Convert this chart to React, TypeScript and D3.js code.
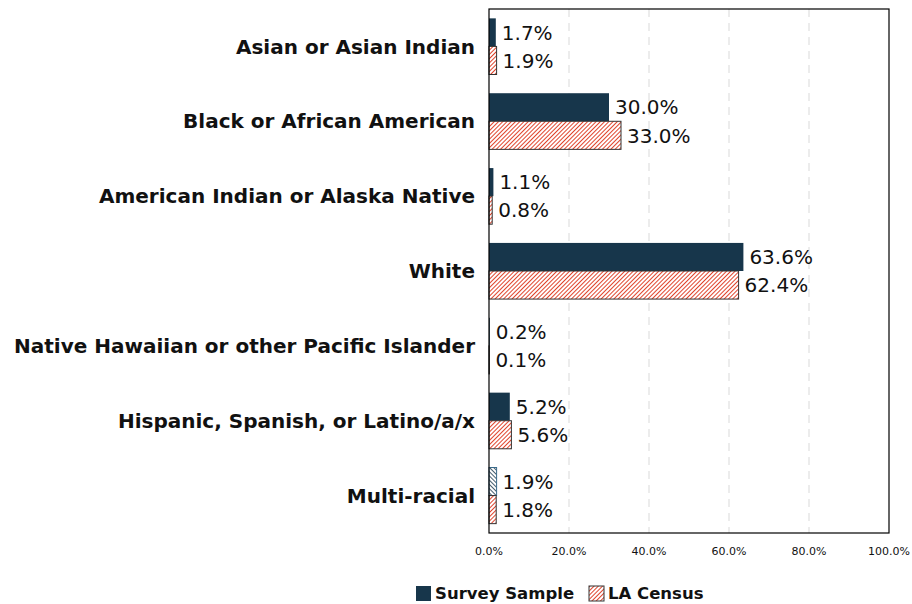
import React from "react";
import * as d3 from "d3";

const categories = [
  "Asian or Asian Indian",
  "Black or African American",
  "American Indian or Alaska Native",
  "White",
  "Native Hawaiian or other Pacific Islander",
  "Hispanic, Spanish, or Latino/a/x",
  "Multi-racial",
];
const surveySample = [1.7, 30.0, 1.1, 63.6, 0.2, 5.2, 1.9];
const laCensus = [1.9, 33.0, 0.8, 62.4, 0.1, 5.6, 1.8];
const xTicks = [0, 20, 40, 60, 80, 100];
const seriesNames = ["Survey Sample", "LA Census"];

const W = 912;
const H = 604;
const M = { left: 489, right: 889, top: 9, bottom: 533 };
const NAVY = "#17364B";
const RED = "#E0442C";
const FONT = "'DejaVu Sans', sans-serif";

export default function App() {
  const x = d3.scaleLinear().domain([0, 100]).range([M.left, M.right]);
  const y = d3
    .scaleBand<string>()
    .domain(categories)
    .range([M.top, M.bottom])
    .paddingInner(0.25)
    .paddingOuter(0.125);
  const bw = y.bandwidth() / 2;

  return (
    <svg
      width={W}
      height={H}
      style={{ position: "absolute", left: 0, top: 0, background: "#fff" }}
      fontFamily={FONT}
    >
      <defs>
        <pattern id="redHatch" width="3" height="3" patternUnits="userSpaceOnUse" patternTransform="rotate(45)">
          <rect width="3" height="3" fill="#fff" />
          <line x1="0" y1="0" x2="0" y2="3" stroke={RED} strokeWidth="2" />
        </pattern>
        <pattern id="blueHatch" width="3" height="3" patternUnits="userSpaceOnUse" patternTransform="rotate(-45)">
          <rect width="3" height="3" fill="#fff" />
          <line x1="0" y1="0" x2="0" y2="3" stroke={NAVY} strokeWidth="1.6" />
        </pattern>
      </defs>
      {/* gridlines */}
      {xTicks.slice(1, -1).map((t) => (
        <line key={t} x1={x(t)} x2={x(t)} y1={M.top} y2={M.bottom} stroke="#d9d9d9" strokeDasharray="8,6" />
      ))}
      {/* bars */}
      {categories.map((c, i) => {
        const y0 = y(c)!;
        const s = surveySample[i];
        const l = laCensus[i];
        const hatchSurvey = c === "Multi-racial";
        return (
          <g key={c}>
            <rect
              x={x(0)}
              y={y0}
              width={x(s) - x(0)}
              height={bw}
              fill={hatchSurvey ? "url(#blueHatch)" : NAVY}
              stroke={hatchSurvey ? "#3a6a8a" : "none"}
              strokeWidth={1}
            />
            <rect
              x={x(0)}
              y={y0 + bw}
              width={x(l) - x(0)}
              height={bw}
              fill="url(#redHatch)"
              stroke="#333"
              strokeWidth={1}
            />
            <text x={x(s) + 6} y={y0 + bw / 2} dy="0.36em" fontSize={20} fill="#111">
              {s.toFixed(1)}%
            </text>
            <text x={x(l) + 6} y={y0 + bw * 1.5} dy="0.36em" fontSize={20} fill="#111">
              {l.toFixed(1)}%
            </text>
            <text
              x={M.left - 14}
              y={y0 + bw}
              dy="0.36em"
              textAnchor="end"
              fontSize={20}
              fontWeight="bold"
              fill="#111"
            >
              {c}
            </text>
          </g>
        );
      })}
      {/* frame */}
      <rect x={M.left} y={M.top} width={M.right - M.left} height={M.bottom - M.top} fill="none" stroke="#000" strokeWidth={1.2} />
      {/* x tick labels */}
      {xTicks.map((t) => (
        <text key={t} x={x(t)} y={551} dy="0.36em" textAnchor="middle" fontSize={11} fill="#111">
          {t.toFixed(1)}%
        </text>
      ))}
      {/* legend */}
      <g fontSize={16.5} fontWeight="bold" fill="#111">
        <rect x={416} y={586} width={15} height={15} fill={NAVY} />
        <text x={435} y={593} dy="0.36em">{seriesNames[0]}</text>
        <rect x={589} y={586} width={15} height={15} fill="url(#redHatch)" stroke="#333" />
        <text x={608} y={593} dy="0.36em">{seriesNames[1]}</text>
      </g>
    </svg>
  );
}
